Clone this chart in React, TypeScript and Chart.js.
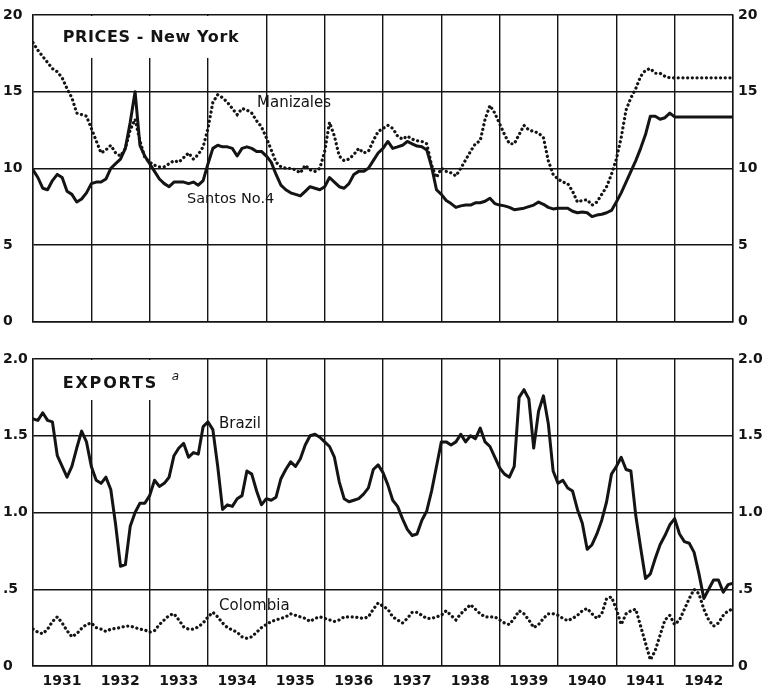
import React, { useEffect, useRef } from 'react';
import { Chart, registerables } from 'chart.js';

Chart.register(...registerables);

// ---------- data ----------
const startYear = 1931;
const yearLabels = ['1931', '1932', '1933', '1934', '1935', '1936', '1937', '1938', '1939', '1940', '1941', '1942'];

// monthly values, Jan 1931 .. Jan 1943 (cents per lb)
const santos = [
  9.9, 9.4, 8.7, 8.6, 9.2, 9.6, 9.4, 8.5, 8.3, 7.8, 8.0, 8.4,
  9.0, 9.1, 9.1, 9.3, 10.0, 10.3, 10.6, 11.3, 13.0, 15.0, 11.5, 10.8,
  10.3, 9.8, 9.3, 9.0, 8.8, 9.1, 9.1, 9.1, 9.0, 9.1, 8.9, 9.2,
  10.3, 11.3, 11.5, 11.4, 11.4, 11.3, 10.8, 11.3, 11.4, 11.3, 11.1, 11.1,
  10.8, 10.4, 9.6, 8.9, 8.6, 8.4, 8.3, 8.2, 8.5, 8.8, 8.7, 8.6,
  8.8, 9.4, 9.1, 8.8, 8.7, 9.0, 9.6, 9.8, 9.8, 10.0, 10.5, 11.0,
  11.3, 11.75, 11.3, 11.4, 11.5, 11.75, 11.6, 11.45, 11.4, 11.2, 10.1, 8.6,
  8.3, 7.9, 7.7, 7.45, 7.55, 7.6, 7.6, 7.75, 7.75, 7.85, 8.05, 7.7,
  7.6, 7.55, 7.45, 7.3, 7.35, 7.4, 7.5, 7.6, 7.8, 7.65, 7.45, 7.35,
  7.4, 7.4, 7.4, 7.2, 7.1, 7.15, 7.1, 6.85, 6.95, 7.0, 7.1, 7.25,
  7.8, 8.4, 9.1, 9.8, 10.5, 11.3, 12.2, 13.4, 13.4, 13.2, 13.3, 13.6,
  13.35, 13.35, 13.35, 13.35, 13.35, 13.35, 13.35, 13.35, 13.35, 13.35, 13.35, 13.35,
  13.35,
];

const manizales = [
  18.2, 17.7, 17.3, 16.9, 16.5, 16.3, 15.9, 15.2, 14.6, 13.6, 13.5, 13.4,
  12.6, 11.8, 11.0, 11.2, 11.5, 11.0, 10.8, 11.3, 12.5, 13.2, 11.8, 10.7,
  10.4, 10.2, 10.1, 10.1, 10.3, 10.5, 10.4, 10.7, 11.0, 10.6, 10.9, 11.4,
  12.6, 14.3, 14.8, 14.6, 14.3, 13.9, 13.5, 13.9, 13.8, 13.6, 13.1, 12.7,
  12.0, 11.2, 10.4, 10.1, 10.0, 10.0, 9.9, 9.7, 10.2, 9.9, 9.8, 10.0,
  11.1, 13.0, 12.1, 10.8, 10.5, 10.6, 10.9, 11.3, 11.0, 11.1, 11.8, 12.4,
  12.6, 12.8, 12.6, 12.1, 11.9, 12.1, 11.9, 11.8, 11.75, 11.6, 10.2, 9.4,
  10.0, 9.8, 9.7, 9.5, 10.0, 10.55, 11.1, 11.6, 11.8, 13.2, 14.1, 13.6,
  12.9, 12.2, 11.6, 11.6, 12.2, 12.8, 12.5, 12.4, 12.3, 12.0, 10.5, 9.6,
  9.3, 9.1, 9.0, 8.5, 7.8, 7.9, 7.95, 7.6, 7.8, 8.3, 8.8, 9.6,
  10.6, 12.0, 13.8, 14.6, 15.2, 16.0, 16.4, 16.5, 16.2, 16.2, 16.0, 15.9,
  15.9, 15.9, 15.9, 15.9, 15.9, 15.9, 15.9, 15.9, 15.9, 15.9, 15.9, 15.9,
  15.9,
];

// monthly exports, million bags
const brazil = [
  1.61, 1.60, 1.65, 1.60, 1.59, 1.37, 1.30, 1.23, 1.30, 1.42, 1.53, 1.46,
  1.30, 1.21, 1.19, 1.23, 1.15, 0.92, 0.65, 0.66, 0.91, 1.00, 1.06, 1.06,
  1.11, 1.21, 1.17, 1.19, 1.23, 1.37, 1.42, 1.45, 1.36, 1.39, 1.38, 1.56,
  1.59, 1.54, 1.30, 1.02, 1.05, 1.04, 1.09, 1.11, 1.27, 1.25, 1.14, 1.05,
  1.09, 1.08, 1.10, 1.22, 1.28, 1.33, 1.30, 1.35, 1.44, 1.50, 1.51, 1.49,
  1.46, 1.43, 1.36, 1.20, 1.09, 1.07, 1.08, 1.09, 1.12, 1.16, 1.28, 1.31,
  1.26, 1.18, 1.08, 1.04, 0.96, 0.89, 0.85, 0.86, 0.95, 1.01, 1.14, 1.30,
  1.46, 1.46, 1.44, 1.46, 1.51, 1.46, 1.50, 1.48, 1.55, 1.46, 1.43, 1.36,
  1.29, 1.25, 1.23, 1.30, 1.75, 1.80, 1.74, 1.42, 1.66, 1.76, 1.58, 1.27,
  1.19, 1.21, 1.16, 1.14, 1.02, 0.93, 0.76, 0.79, 0.86, 0.95, 1.07, 1.25,
  1.30, 1.36, 1.28, 1.27, 0.98, 0.77, 0.57, 0.60, 0.70, 0.79, 0.85, 0.92,
  0.96, 0.86, 0.81, 0.80, 0.74, 0.60, 0.44, 0.50, 0.56, 0.56, 0.48, 0.53,
  0.54,
];

const colombia = [
  0.24, 0.22, 0.21, 0.24, 0.29, 0.32, 0.28, 0.23, 0.19, 0.21, 0.245, 0.27,
  0.28, 0.25, 0.24, 0.225, 0.24, 0.245, 0.25, 0.26, 0.26, 0.25, 0.24, 0.235,
  0.22, 0.23, 0.27, 0.30, 0.33, 0.34, 0.30, 0.255, 0.24, 0.24, 0.255, 0.28,
  0.32, 0.35, 0.32, 0.28, 0.25, 0.235, 0.22, 0.19, 0.18, 0.19, 0.22, 0.25,
  0.27, 0.29, 0.30, 0.31, 0.32, 0.34, 0.33, 0.32, 0.31, 0.29, 0.31, 0.32,
  0.31, 0.30, 0.29, 0.30, 0.32, 0.32, 0.32, 0.315, 0.31, 0.32, 0.37, 0.41,
  0.39, 0.37, 0.32, 0.30, 0.28, 0.31, 0.35, 0.35, 0.33, 0.31, 0.31, 0.32,
  0.33, 0.36, 0.33, 0.30, 0.34, 0.37, 0.40, 0.37, 0.34, 0.32, 0.32, 0.32,
  0.30, 0.28, 0.27, 0.31, 0.36, 0.34, 0.30, 0.25, 0.27, 0.31, 0.34, 0.34,
  0.33, 0.31, 0.295, 0.31, 0.33, 0.36, 0.375, 0.34, 0.31, 0.34, 0.44, 0.45,
  0.37, 0.27, 0.34, 0.36, 0.37, 0.26, 0.15, 0.04, 0.10, 0.20, 0.30, 0.33,
  0.27, 0.30, 0.37, 0.44, 0.50, 0.47, 0.37, 0.30, 0.26, 0.28, 0.33, 0.36,
  0.37,
];

const priceTicks = [0, 5, 10, 15, 20];
const priceTickLabels = ['0', '5', '10', '15', '20'];
const exportTicks = [0, 0.5, 1.0, 1.5, 2.0];
const exportTickLabels = ['0', '.5', '1.0', '1.5', '2.0'];

// ---------- styling ----------
const INK = '#141414';
const GRID_W = 1.4;
const TICK_FONT = { family: '"DejaVu Sans", sans-serif', size: 14, weight: 'bold' as const };
const YEAR_FONT = { family: '"DejaVu Sans", sans-serif', size: 14, weight: 'bold' as const };

type Note = { text: string; x: number; y: number; size: number; spacing?: number; italic?: boolean; bold?: boolean };
type Mask = { x1: number; y1: number };

const toPoints = (arr: number[]) => arr.map((v, i) => ({ x: startYear + i / 12, y: v }));

function makePlugin(notes: Note[], mask: Mask) {
  return {
    id: 'notes',
    beforeDatasetsDraw(chart: any) {
      const { ctx, chartArea, scales } = chart;
      const xs = scales.x;
      const ys = scales.y;
      ctx.save();
      ctx.fillStyle = '#ffffff';
      const left = chartArea.left + 1;
      const top = chartArea.top + 1;
      ctx.fillRect(left, top, xs.getPixelForValue(mask.x1) - left, ys.getPixelForValue(mask.y1) - top);
      ctx.restore();
    },
    afterDatasetsDraw(chart: any) {
      const { ctx, scales } = chart;
      const xs = scales.x;
      const ys = scales.y;
      ctx.save();
      ctx.fillStyle = INK;
      ctx.textBaseline = 'middle';
      ctx.textAlign = 'left';
      for (const n of notes) {
        ctx.font = `${n.italic ? 'italic ' : ''}${n.bold ? 'bold ' : ''}${n.size}px "DejaVu Sans", sans-serif`;
        (ctx as any).letterSpacing = `${n.spacing ?? 0}px`;
        ctx.fillText(n.text, xs.getPixelForValue(n.x), ys.getPixelForValue(n.y));
      }
      ctx.restore();
    },
  };
}

function yAxis(position: 'left' | 'right', max: number, ticks: number[], labels: string[], width: number, showGrid: boolean) {
  return {
    position,
    min: 0,
    max,
    afterBuildTicks: (s: any) => {
      s.ticks = ticks.map((v) => ({ value: v }));
    },
    afterFit: (s: any) => {
      s.width = width;
    },
    ticks: {
      font: TICK_FONT,
      color: INK,
      padding: position === 'left' ? 0 : 5,
      crossAlign: position === 'left' ? ('far' as const) : ('near' as const),
      callback: (v: any) => {
        const idx = ticks.findIndex((t) => Math.abs(t - v) < 1e-9);
        return idx >= 0 ? labels[idx] : '';
      },
    },
    grid: { display: showGrid, color: INK, lineWidth: GRID_W, drawTicks: false },
    border: { display: true, color: INK, width: GRID_W },
  };
}

function xAxis(showLabels: boolean, height: number) {
  return {
    type: 'linear' as const,
    min: startYear,
    max: startYear + yearLabels.length,
    afterBuildTicks: (s: any) => {
      s.ticks = Array.from({ length: yearLabels.length + 1 }, (_, i) => ({ value: startYear + i }));
    },
    afterFit: (s: any) => {
      s.height = height;
    },
    ticks: {
      display: showLabels,
      font: YEAR_FONT,
      color: INK,
      padding: 7,
      maxRotation: 0,
      autoSkip: false,
      labelOffset: 29,
      callback: (v: any) => yearLabels[Math.round(v) - startYear] ?? '',
    },
    grid: { color: INK, lineWidth: GRID_W, drawTicks: false },
    border: { display: true, color: INK, width: GRID_W },
  };
}

const solid = (data: number[]) => ({
  data: toPoints(data),
  borderColor: INK,
  borderWidth: 3,
  pointRadius: 0,
  tension: 0,
  borderJoinStyle: 'round' as const,
  borderCapStyle: 'round' as const,
});

const dotted = (data: number[]) => ({
  data: toPoints(data),
  borderColor: INK,
  borderWidth: 3.2,
  pointRadius: 0,
  tension: 0,
  borderDash: [0.1, 4.6],
  borderCapStyle: 'round' as const,
});

function Panel(props: {
  width: number;
  height: number;
  top: number;
  datasets: any[];
  yMax: number;
  ticks: number[];
  tickLabels: string[];
  notes: Note[];
  mask: Mask;
  padTop: number;
  padBottom: number;
  xLabels: boolean;
  xHeight: number;
}) {
  const ref = useRef<HTMLCanvasElement | null>(null);
  useEffect(() => {
    if (!ref.current) return;
    const chart = new Chart(ref.current, {
      type: 'line',
      data: { datasets: props.datasets },
      options: {
        responsive: false,
        animation: false,
        parsing: false as any,
        layout: { padding: { left: 3, right: 0, top: props.padTop, bottom: props.padBottom } },
        plugins: { legend: { display: false }, tooltip: { enabled: false } },
        scales: {
          x: xAxis(props.xLabels, props.xHeight) as any,
          y: yAxis('left', props.yMax, props.ticks, props.tickLabels, 30, true) as any,
          y2: yAxis('right', props.yMax, props.ticks, props.tickLabels, 29, false) as any,
        },
      },
      plugins: [makePlugin(props.notes, props.mask)],
    });
    return () => chart.destroy();
  }, []);
  return (
    <canvas
      ref={ref}
      width={props.width}
      height={props.height}
      style={{ position: 'absolute', left: 0, top: props.top, width: props.width, height: props.height }}
    />
  );
}

const priceNotes: Note[] = [
  { text: 'PRICES - New York', x: 1931.51, y: 18.5, size: 16, spacing: 0.6, bold: true },
  { text: 'Manizales', x: 1934.84, y: 14.27, size: 15 },
  { text: 'Santos No.4', x: 1933.64, y: 8.0, size: 14.5 },
];

const exportNotes: Note[] = [
  { text: 'EXPORTS', x: 1931.51, y: 1.84, size: 16, spacing: 1.8, bold: true },
  { text: 'a', x: 1933.38, y: 1.885, size: 12, italic: true },
  { text: 'Brazil', x: 1934.19, y: 1.577, size: 15 },
  { text: 'Colombia', x: 1934.19, y: 0.39, size: 15 },
];

export default function App() {
  return (
    <div style={{ position: 'absolute', left: 0, top: 0, width: 762, height: 688, background: '#fff' }}>
      <Panel
        width={762}
        height={335}
        top={0}
        datasets={[dotted(manizales), solid(santos)]}
        yMax={20}
        ticks={priceTicks}
        tickLabels={priceTickLabels}
        notes={priceNotes}
        mask={{ x1: 1934.63, y1: 17.2 }}
        padTop={15}
        padBottom={13}
        xLabels={false}
        xHeight={0}
      />
      <Panel
        width={762}
        height={353}
        top={335}
        datasets={[dotted(colombia), solid(brazil)]}
        yMax={2}
        ticks={exportTicks}
        tickLabels={exportTickLabels}
        notes={exportNotes}
        mask={{ x1: 1933.78, y1: 1.733 }}
        padTop={24}
        padBottom={0}
        xLabels={true}
        xHeight={22}
      />
    </div>
  );
}
